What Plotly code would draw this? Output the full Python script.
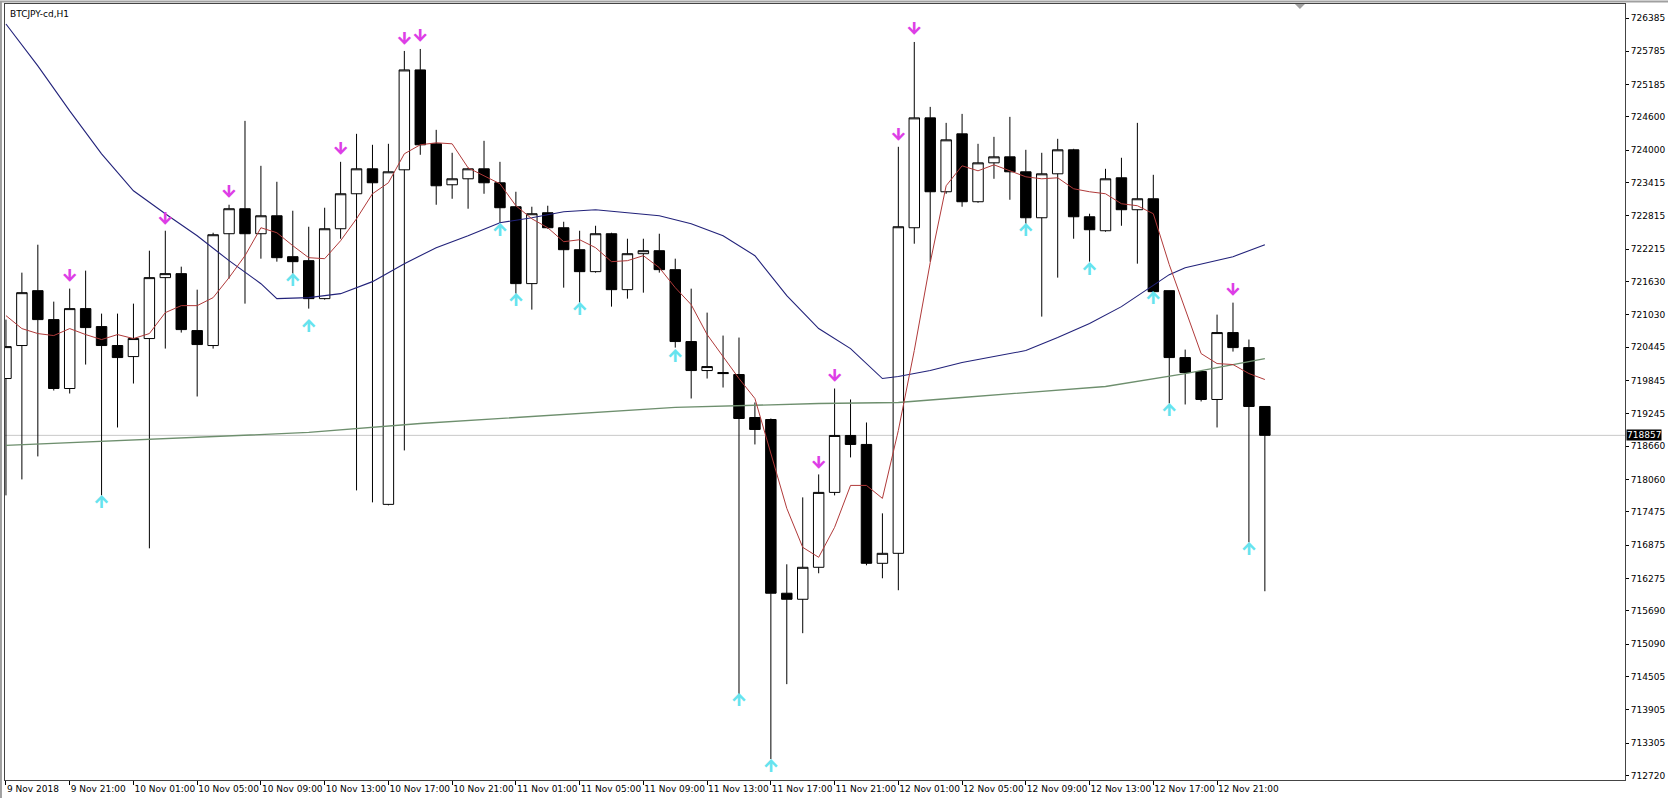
import plotly.graph_objects as go

title_text = "BTCJPY-cd,H1"

# bar index 0 = 9 Nov 17:00 (H1 bars)
bar_idx = list(range(80))
opens = [719882, 720477, 721467, 720945, 719702, 721143, 720819, 720477, 720278, 720603,
         721702, 721774, 720747, 720477, 722494, 722945, 722494, 722818, 722080, 722008,
         721323, 722584, 723215, 723665, 717612, 723647, 725449, 724116, 723377, 723485,
         723665, 723413, 722981, 721594, 722873, 722602, 722206, 721810, 722494, 721485,
         722134, 722188, 721846, 720549, 720026, 719990, 719954, 719179, 719143, 716009,
         715900, 716477, 717828, 718855, 718693, 716549, 716729, 722602, 724584, 723251,
         724296, 723071, 723773, 723881, 723611, 722782, 723575, 724008, 722800, 722548,
         723503, 722927, 723125, 721467, 720260, 720008, 719504, 720711, 720440, 719378]
highs = [720945, 721792, 722296, 721269, 721504, 721828, 721053, 721053, 721233, 722188,
         722548, 721900, 721485, 722512, 723017, 724530, 723719, 723431, 722909, 722620,
         722963, 723791, 724296, 724098, 724116, 725791, 725827, 724368, 723954, 723683,
         724170, 723791, 723251, 722981, 722999, 722710, 722548, 722638, 722512, 722404,
         722404, 722494, 722044, 721503, 721071, 720657, 720621, 719450, 719161, 716531,
         717738, 718152, 719702, 719504, 719089, 717450, 724062, 725953, 724782, 724494,
         724656, 724116, 724242, 724602, 724008, 723954, 724206, 724026, 722855, 723665,
         723864, 724494, 723557, 721467, 720404, 720008, 721035, 721251, 720585, 719378]
lows = [717774, 718062, 718477, 719666, 719612, 720134, 717774, 718999, 719792, 716819,
        720422, 720711, 719558, 720422, 721684, 721233, 722044, 721990, 721774, 721143,
        721305, 722404, 717864, 717648, 717594, 718585, 723918, 723017, 723125, 722945,
        723215, 722692, 721413, 721125, 722584, 721521, 721251, 721792, 721179, 721323,
        721431, 721792, 720440, 719522, 719882, 719720, 714171, 718693, 713018, 714369,
        715288, 716369, 717774, 718459, 716513, 716279, 716063, 722314, 721990, 723215,
        722981, 723053, 723485, 723107, 722674, 720999, 721702, 722404, 721990, 722530,
        722638, 721954, 721431, 719432, 719414, 719468, 718999, 720368, 716927, 716045]
closes = [720458, 721431, 720945, 719702, 721143, 720801, 720477, 720260, 720603, 721702,
          721774, 720765, 720495, 722476, 722945, 722494, 722818, 722062, 721990, 721323,
          722584, 723215, 723665, 723413, 723611, 725449, 724098, 723359, 723485, 723665,
          723413, 722963, 721594, 722855, 722602, 722206, 721810, 722494, 721485, 722134,
          722188, 721846, 720549, 720026, 720098, 719972, 719161, 718963, 716009, 715900,
          716477, 717828, 718855, 718693, 716549, 716729, 722620, 724584, 723251, 724188,
          723071, 723773, 723881, 723611, 722782, 723575, 724008, 722800, 722566, 723485,
          722927, 723125, 721449, 720260, 719990, 719504, 720711, 720440, 719378, 718857]

# fast moving average (red), read per bar
ma_fast = [721017, 720783, 720693, 720657, 720783, 720675, 720585, 720675, 720603, 720693,
           721071, 721197, 721197, 721341, 721702, 722098, 722602, 722512, 722278, 722062,
           722044, 722368, 722764, 723215, 723413, 723936, 724098, 724134, 724116, 723683,
           723539, 723395, 722999, 722764, 722602, 722350, 722386, 722242, 721990, 722008,
           722098, 721882, 721521, 721215, 720675, 720278, 719882, 719522, 718531, 717540,
           716837, 716657, 717198, 717954, 717954, 717720, 718945, 720386, 721972, 723359,
           723719, 723629, 723737, 723629, 723521, 723485, 723503, 723305, 723251, 723215,
           723035, 722999, 722855, 721936, 721143, 720332, 720152, 720134, 719972, 719864]

# slow moving average (navy), read at sampled bars
ma_mid_idx = [0, 2, 4, 6, 8, 10, 12, 14, 16, 17, 19, 21, 23, 25, 27, 29, 31, 33, 35, 37, 39,
              41, 43, 45, 47, 49, 51, 53, 55, 56, 58, 60, 62, 64, 66, 68, 70, 72, 73, 74, 77, 79]
ma_mid = [726278, 725521, 724710, 723936, 723269, 722855, 722458, 722008, 721593, 721323,
          721341, 721413, 721630, 721954, 722242, 722458, 722692, 722782, 722891, 722927,
          722873, 722818, 722674, 722458, 722098, 721377, 720783, 720422, 719882, 719918,
          720026, 720170, 720278, 720386, 720621, 720873, 721179, 721557, 721756, 721882,
          722080, 722296]

# long moving average (green), read at sampled bars
ma_long_idx = [0, 6, 12, 19, 26, 35, 42, 51, 56, 60, 65, 69, 74, 79]
ma_long = [718675, 718747, 718819, 718909, 719071, 719233, 719360, 719432, 719450, 719540,
           719648, 719738, 719972, 720242]

# signal arrows
sell_idx = [4, 10, 14, 21, 25, 26, 51, 52, 56, 57, 77]
sell_price = [721702, 722728, 723215, 723990, 725971, 726025, 718333, 719900, 724242, 726151, 721449]
buy_idx = [6, 18, 19, 31, 32, 36, 42, 46, 48, 64, 68, 72, 73, 78]
buy_price = [717630, 721630, 720801, 722530, 721269, 721107, 720260, 714045, 712856, 722530,
             721828, 721305, 719287, 716783]

ytick_vals = [726385, 725785, 725185, 724600, 724000, 723415, 722815, 722215, 721630, 721030,
              720445, 719845, 719245, 718660, 718060, 717475, 716875, 716275, 715690, 715090,
              714505, 713905, 713305, 712720]
xtick_idx = list(range(0, 80, 4))
xtick_text = ["9 Nov 2018", "9 Nov 21:00", "10 Nov 01:00", "10 Nov 05:00", "10 Nov 09:00",
              "10 Nov 13:00", "10 Nov 17:00", "10 Nov 21:00", "11 Nov 01:00", "11 Nov 05:00",
              "11 Nov 09:00", "11 Nov 13:00", "11 Nov 17:00", "11 Nov 21:00", "12 Nov 01:00",
              "12 Nov 05:00", "12 Nov 09:00", "12 Nov 13:00", "12 Nov 17:00", "12 Nov 21:00"]

FONT = "Tahoma, 'DejaVu Sans', sans-serif"
last_price = closes[-1]

fig = go.Figure()

fig.add_hline(y=last_price, line=dict(color="#C8C8C8", width=1), layer="below")

fig.add_trace(go.Scatter(x=ma_long_idx, y=ma_long, mode="lines",
                         line=dict(color="#6E8F6E", width=1.3), hoverinfo="skip"))
fig.add_trace(go.Scatter(x=ma_mid_idx, y=ma_mid, mode="lines",
                         line=dict(color="#22227A", width=1.1), hoverinfo="skip"))

fig.add_trace(go.Candlestick(
    x=bar_idx, open=opens, high=highs, low=lows, close=closes,
    increasing=dict(line=dict(color="#000000", width=1), fillcolor="#FFFFFF"),
    decreasing=dict(line=dict(color="#000000", width=1), fillcolor="#000000"),
    whiskerwidth=0, hoverinfo="skip"))

fig.add_trace(go.Scatter(x=bar_idx, y=ma_fast, mode="lines",
                         line=dict(color="#B03A3A", width=1), hoverinfo="skip"))

arrow_font = "Inter, 'DejaVu Sans', sans-serif"
fig.add_trace(go.Scatter(x=sell_idx, y=sell_price, mode="text", text=["↓"] * len(sell_idx),
                         textposition="middle center",
                         textfont=dict(color="#DD3EE6", size=17, family=arrow_font, weight=900),
                         hoverinfo="skip"))
fig.add_trace(go.Scatter(x=buy_idx, y=buy_price, mode="text", text=["↑"] * len(buy_idx),
                         textposition="middle center",
                         textfont=dict(color="#66E3EE", size=17, family=arrow_font, weight=900),
                         hoverinfo="skip"))

fig.add_annotation(x=0, y=1, xref="paper", yref="paper", xanchor="left", yanchor="top",
                   text=title_text, showarrow=False, xshift=3, yshift=-3,
                   font=dict(family=FONT, size=9, color="#000000"))
fig.add_annotation(x=1, y=last_price, xref="paper", yref="y", xanchor="left", yanchor="middle",
                   text=str(last_price), showarrow=False, bgcolor="#000000", borderpad=0,
                   xshift=1, font=dict(family=FONT, size=9, color="#FFFFFF"))

# chart-shift marker
fig.add_shape(type="path", xref="x", yref="paper", xsizemode="pixel", ysizemode="pixel",
              xanchor=81.2, yanchor=1, path="M-5,0 L5,0 L0,-5 Z",
              fillcolor="#A0A0A0", line=dict(width=0))
# window frame (top and left edges)
fig.add_shape(type="line", xref="paper", yref="paper", x0=-0.004, x1=1.03, y0=1.0032, y1=1.0032,
              line=dict(color="#A0A0A0", width=2))
fig.add_shape(type="line", xref="paper", yref="paper", x0=-0.0025, x1=-0.0025, y0=-0.03, y1=1.004,
              line=dict(color="#A0A0A0", width=2))

fig.update_layout(
    width=1668, height=798,
    margin=dict(l=5, r=41, t=3, b=18),
    paper_bgcolor="#FFFFFF", plot_bgcolor="#FFFFFF",
    showlegend=False,
    boxgap=0.2, boxgroupgap=0.18,
    font=dict(family=FONT, size=9, color="#000000"),
)
fig.update_xaxes(range=[-0.06, 101.6], rangeslider=dict(visible=False),
                 tickmode="array", tickvals=xtick_idx, ticktext=xtick_text,
                 ticks="outside", ticklen=4, tickcolor="#000000", tickangle=0,
                 ticklabelposition="outside right",
                 showgrid=False, zeroline=False, showline=True, linecolor="#444444",
                 linewidth=1, mirror=True, tickfont=dict(family=FONT, size=9))
fig.update_yaxes(range=[712640, 726638], side="right",
                 tickmode="array", tickvals=ytick_vals, tickformat="d",
                 ticks="outside", ticklen=3, tickcolor="#000000",
                 showgrid=False, zeroline=False, showline=True, linecolor="#444444",
                 linewidth=1, mirror=True, tickfont=dict(family=FONT, size=9))

fig.write_html("out.html", config={"displayModeBar": False},
               post_script="document.body.style.margin='0';document.body.style.overflow='hidden';")
